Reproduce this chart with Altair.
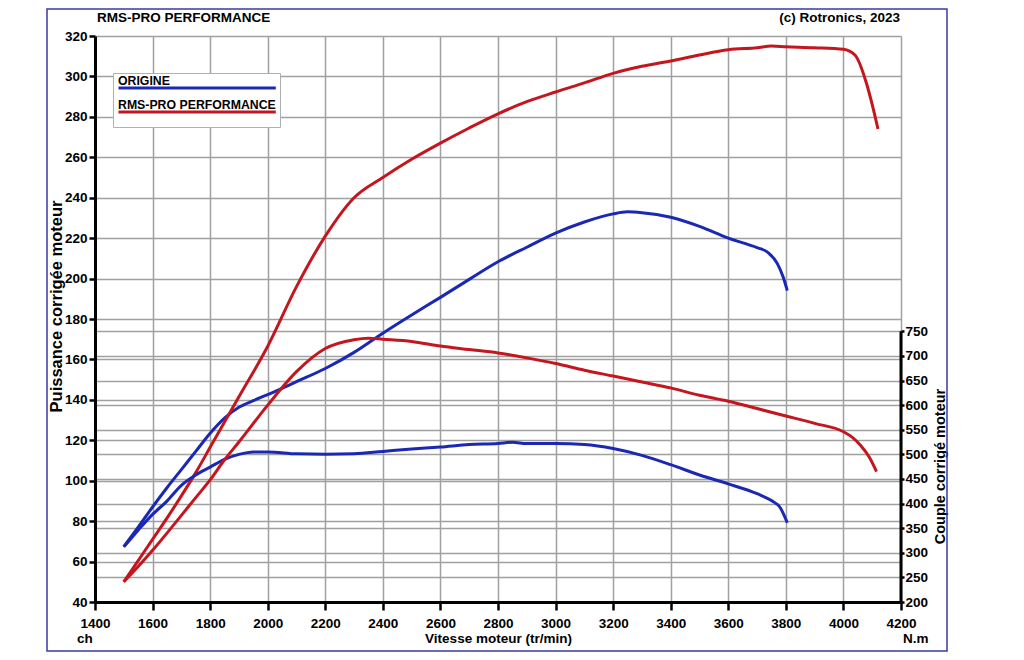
import altair as alt
import pandas as pd

FONT = "Liberation Sans"
BLUE = "#1a28b4"
RED = "#c4161e"
GRID = "#a0a0a0"
FRAME = "#3a3aa8"

series_names = ["ORIGINE", "RMS-PRO PERFORMANCE"]
chart_title = "RMS-PRO PERFORMANCE"
credit = "(c) Rotronics, 2023"
x_title = "Vitesse moteur (tr/min)"
power_title = "Puissance corrigée moteur"
torque_title = "Couple corrigé moteur"
power_unit = "ch"
torque_unit = "N.m"

x_ticks = list(range(1400, 4201, 200))
power_ticks = list(range(40, 321, 20))
torque_ticks = list(range(200, 751, 50))

# ORIGINE - power (ch)
rpm_orig_power = [1500, 1550, 1600, 1650, 1700, 1750, 1800, 1850, 1900, 1950, 2000, 2100,
                  2200, 2300, 2400, 2500, 2600, 2700, 2800, 2900, 3000, 3100, 3200, 3250,
                  3300, 3400, 3500, 3600, 3700, 3735, 3770, 3790, 3805]
power_orig = [67.4, 77, 87, 96.5, 105.5, 114.5, 123.5, 131, 136.3, 139.6, 142.6, 149,
              155.5, 163.5, 173, 182, 190.7, 199.6, 208.3, 215.5, 222.5, 228, 232, 233,
              232.6, 230.3, 225.8, 220, 215.3, 213.2, 207.5, 201, 194]

# ORIGINE - torque (N.m)
rpm_orig_torque = [1500, 1550, 1600, 1650, 1700, 1750, 1800, 1850, 1900, 1950, 2000, 2100, 2200,
                   2300, 2400, 2500, 2600, 2700, 2800, 2850, 2900, 3000, 3100, 3200, 3300,
                   3400, 3500, 3600, 3700, 3750, 3780, 3805]
torque_orig = [312, 346, 378, 405, 437, 458, 474, 490, 500, 505, 505, 501, 500,
               501, 506, 511, 515, 520, 522, 524.5, 522, 522, 520, 512, 498,
               479, 458, 440, 420, 406, 392, 361]

# RMS-PRO - power (ch)
rpm_rms_power = [1500, 1550, 1600, 1650, 1700, 1750, 1800, 1900, 2000, 2100, 2200, 2300, 2400,
                 2500, 2600, 2700, 2800, 2900, 3000, 3100, 3200, 3300, 3400, 3500, 3600,
                 3700, 3750, 3800, 3900, 4000, 4040, 4080, 4100, 4120]
power_rms = [50, 60.5, 71, 81.5, 92.5, 104, 116.5, 141.5, 166.5, 196, 221, 240, 250,
             259, 267, 274.5, 281.5, 287.5, 292.3, 296.8, 301.5, 305, 307.6, 310.6, 313.2,
             314.2, 315, 314.7, 314.2, 313.4, 310.6, 296.6, 286, 274]

# RMS-PRO - torque (N.m)
rpm_rms_torque = [1500, 1550, 1600, 1650, 1700, 1750, 1800, 1850, 1900, 2000, 2100, 2200, 2300,
                  2350, 2400, 2500, 2600, 2700, 2800, 2900, 3000, 3100, 3200, 3300, 3400,
                  3500, 3600, 3700, 3800, 3900, 4000, 4030, 4060, 4090, 4115]
torque_rms = [241, 272, 305, 340, 376, 412, 448, 489, 525, 600, 668, 715, 733,
              736, 734, 729.5, 720, 713, 706, 696, 684.5, 671, 659, 647, 635,
              620, 608, 593, 578, 563, 546, 535, 518, 494, 465]

torque_axis_span = [200, 750]


def frame(rpms, vals, name):
    return pd.DataFrame({"rpm": rpms, "val": vals, "serie": name})


power_df = pd.concat([frame(rpm_orig_power, power_orig, series_names[0]),
                      frame(rpm_rms_power, power_rms, series_names[1])], ignore_index=True)
torque_df = pd.concat([frame(rpm_orig_torque, torque_orig, series_names[0]),
                       frame(rpm_rms_torque, torque_rms, series_names[1])], ignore_index=True)
rule_df = pd.DataFrame({"rpm": [x_ticks[-1]], "lo": [torque_axis_span[0]], "hi": [torque_axis_span[1]]})

label_style = dict(labelFont=FONT, labelFontSize=13.5, labelFontWeight="bold", labelColor="black")
title_style = dict(titleFont=FONT, titleFontWeight="bold", titleColor="black")

x_axis = alt.Axis(values=x_ticks, title=x_title, format="d", grid=True, gridColor=GRID,
                  gridWidth=1.5, domainColor="black", domainWidth=3, tickColor="black",
                  tickWidth=2.5, tickSize=8, labelPadding=6, labelFlush=False,
                  labelOverlap=False, titleFontSize=13.5, titlePadding=2,
                  **label_style, **title_style)
x_scale = alt.Scale(domain=[1400, 4200], nice=False, zero=False)

power_axis = alt.Axis(values=power_ticks, title=power_title, format="d", grid=True,
                      gridColor=GRID, gridWidth=1.5, domainColor="black", domainWidth=3,
                      tickColor="black", tickWidth=2.5, tickSize=6, labelPadding=2,
                      labelOverlap=False, titleFontSize=16.5, titleX=-39, titleY=270,
                      titleBaseline="middle", titleAngle=270, **label_style, **title_style)
power_scale = alt.Scale(domain=[40, 320], nice=False, zero=False)

torque_axis = alt.Axis(values=torque_ticks, title=torque_title, format="d", orient="right",
                       grid=True, gridColor=GRID, gridWidth=1.5, domain=False,
                       tickColor="black", tickWidth=2.5, tickSize=3, labelPadding=1,
                       labelOverlap=False, titleFontSize=14.5, titleX=39, titleY=430,
                       titleAngle=270, titleBaseline="middle", **label_style, **title_style)
torque_scale = alt.Scale(domain=[200, 1350], nice=False, zero=False)

legend = alt.Legend(title=None, orient="none", legendX=18, legendY=37, direction="vertical",
                    symbolType="stroke", symbolSize=159 * 159, symbolStrokeWidth=3,
                    labelOffset={"expr": "-161"}, labelBaseline="bottom", labelFont=FONT,
                    labelFontSize=12.3, labelFontWeight="bold", labelColor="black",
                    labelLimit=400, clipHeight=22, rowPadding=0, padding=4,
                    fillColor="white", strokeColor="#b0b0b0", cornerRadius=0)
color = alt.Color("serie:N", scale=alt.Scale(domain=series_names, range=[BLUE, RED]),
                  legend=legend)

X = alt.X("rpm:Q", scale=x_scale, axis=x_axis)

power_lines = alt.Chart(power_df).mark_line(strokeWidth=3, interpolate="monotone").encode(
    x=X, y=alt.Y("val:Q", scale=power_scale, axis=power_axis), color=color)

text_style = dict(font=FONT, fontSize=13.5, fontWeight="bold", color="black",
                  baseline="alphabetic")

title_text = alt.Chart(pd.DataFrame({"t": [chart_title]})).mark_text(
    align="left", **text_style).encode(text="t:N", x=alt.value(2), y=alt.value(-14))

credit_text = alt.Chart(pd.DataFrame({"t": [credit]})).mark_text(
    align="right", **text_style).encode(text="t:N", x=alt.value(805), y=alt.value(-14))

unit_left = alt.Chart(pd.DataFrame({"t": [power_unit]})).mark_text(
    align="left", **text_style).encode(text="t:N", x=alt.value(-18), y=alt.value(607))

unit_right = alt.Chart(pd.DataFrame({"t": [torque_unit]})).mark_text(
    align="left", **text_style).encode(text="t:N", x=alt.value(808), y=alt.value(607))

border = alt.Chart(pd.DataFrame({"t": [0]})).mark_rect(
    fillOpacity=0, stroke=FRAME, strokeWidth=1.5).encode(
    x=alt.value(-48), x2=alt.value(852), y=alt.value(-27), y2=alt.value(615))

torque_lines = alt.Chart(torque_df).mark_line(strokeWidth=3, interpolate="monotone").encode(
    x=X, y=alt.Y("val:Q", scale=torque_scale, axis=torque_axis), color=color)

torque_rule = alt.Chart(rule_df).mark_rule(color="black", strokeWidth=3).encode(
    x=X, y=alt.Y("lo:Q", scale=torque_scale, axis=torque_axis), y2="hi:Q")

power_layer = alt.layer(border, power_lines, title_text, credit_text, unit_left, unit_right)
torque_layer = alt.layer(torque_rule, torque_lines)

chart = alt.layer(power_layer, torque_layer).resolve_scale(y="independent").properties(
    width=806, height=566,
    autosize=alt.AutoSizeParams(type="none"),
    padding={"left": 87, "top": 28, "right": 115, "bottom": 50},
    background="white",
).configure_view(stroke=None)

chart.save("out.html", embed_options={"renderer": "svg", "actions": False})
